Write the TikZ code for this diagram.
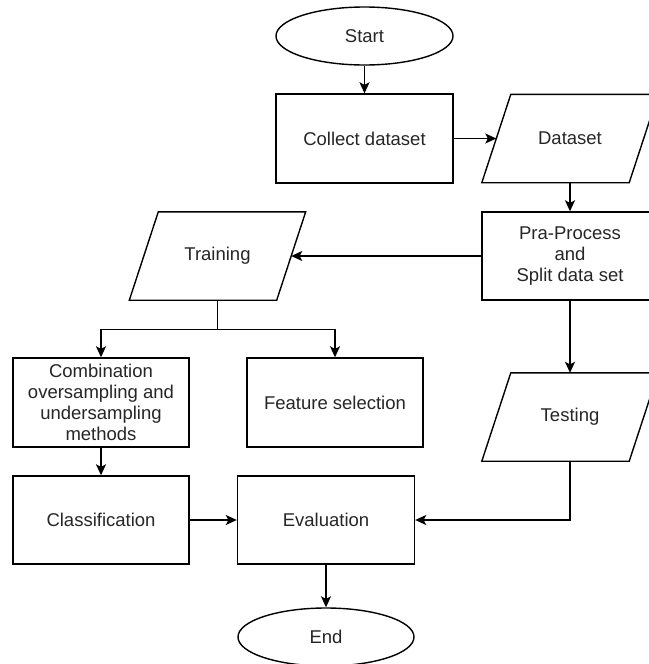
\documentclass[tikz,border=0pt]{standalone}
\usepackage{fontspec}
\setmainfont{Liberation Sans}
\usetikzlibrary{arrows.meta,shapes.geometric}
\begin{document}
\begin{tikzpicture}[x=1pt,y=-1pt,
  font=\fontsize{18.5}{21}\selectfont,
  box/.style={draw, line width=1.4pt, minimum width=176pt, minimum height=88pt, inner sep=0pt, align=center, text=black!85},
  oval/.style={ellipse, draw, line width=1.4pt, minimum width=177pt, minimum height=58pt, inner sep=0pt, text=black!85},
  parabox/.style={minimum width=147pt, minimum height=88pt, inner sep=0pt, align=center, text=black!85},
  pline/.style={line width=1.4pt, line join=miter},
  arr/.style={-{Stealth[length=11pt,width=10pt,inset=2.5pt]}, line width=1.4pt}]
\useasboundingbox (0,0) rectangle (648,664);
\fill[white] (0,0) rectangle (648,664);

\node[oval] (st) at (364.5,36) {Start};
\node[box, minimum width=177pt, minimum height=89pt] (col) at (364.5,138.5) {Collect dataset};
\node[parabox] (ds) at (570,138.5) {Dataset};
\node[box] (pra) at (570,256) {Pra-Process\\and\\Split data set};
\node[parabox] (tr) at (217.5,256) {Training};
\node[box, minimum height=89pt] (comb) at (101,402.5) {Combination\\oversampling and\\undersampling\\methods};
\node[box, minimum height=89pt] (feat) at (335,402.5) {Feature selection};
\node[parabox] (te) at (570,417) {Testing};
\node[box] (cl) at (101,520) {Classification};
\node[box, minimum width=177pt] (ev) at (326,520) {Evaluation};
\node[oval, minimum width=176pt] (en) at (326,637) {End};

% parallelogram outlines
\foreach \n in {ds,tr,te}{
  \draw[pline] ([xshift=-14.5pt]\n.south west) -- ([xshift=14.5pt]\n.north west)
    -- ([xshift=14.5pt]\n.north east) -- ([xshift=-14.5pt]\n.south east) -- cycle;
}

\draw[arr] (st.south) -- (col.north);
\draw[arr] (col.east) -- (ds.west);
\draw[arr] (ds.south) -- (pra.north);
\draw[arr] (pra.west) -- (tr.east);
\draw[arr] (pra.south) -- (te.north);
\draw[arr] (tr.south) -- ++(0,29) -| (comb.north);
\draw[arr] (tr.south) -- ++(0,29) -| (feat.north);
\draw[arr] (comb.south) -- (cl.north);
\draw[arr] (cl.east) -- (ev.west);
\draw[arr] (te.south) |- (ev.east);
\draw[arr] (ev.south) -- (en.north);
\end{tikzpicture}
\end{document}
